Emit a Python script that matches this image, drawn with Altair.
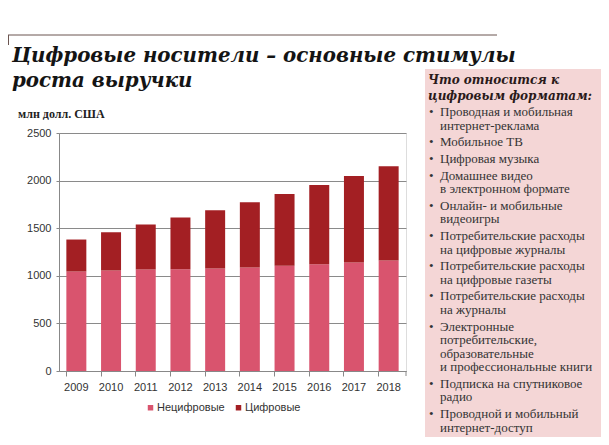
import altair as alt
import pandas as pd

years = ["2009", "2010", "2011", "2012", "2013", "2014", "2015", "2016", "2017", "2018"]
nondigital = [1045, 1056, 1066, 1070, 1077, 1087, 1105, 1122, 1140, 1161]
digital = [336, 402, 472, 542, 612, 686, 755, 833, 909, 989]
series = ["Нецифровые", "Цифровые"]
colors = ["#d9546e", "#a31f23"]
y_ticks = [0, 500, 1000, 1500, 2000, 2500]

title_lines = ["Цифровые носители – основные стимулы", "роста выручки"]
unit_label = "млн долл. США"
panel_heading = ["Что относится к", "цифровым форматам:"]
panel_items = [
    ["Проводная и мобильная", "интернет-реклама"],
    ["Мобильное ТВ"],
    ["Цифровая музыка"],
    ["Домашнее видео", "в электронном формате"],
    ["Онлайн- и мобильные", "видеоигры"],
    ["Потребительские расходы", "на цифровые журналы"],
    ["Потребительские расходы", "на цифровые газеты"],
    ["Потребительские расходы", "на журналы"],
    ["Электронные", "потребительские,", "образовательные", "и профессиональные книги"],
    ["Подписка на спутниковое", "радио"],
    ["Проводной и мобильный", "интернет-доступ"],
]

W, H = 347, 238
OX, OY = 59, 133  # page position of plot origin

rows = []
for i, y in enumerate(years):
    rows.append({"year": y, "series": series[0], "value": nondigital[i], "ord": 0})
    rows.append({"year": y, "series": series[1], "value": digital[i], "ord": 1})
df = pd.DataFrame(rows)

bars = alt.Chart(df).mark_bar().encode(
    x=alt.X("year:O", title=None,
            scale=alt.Scale(paddingInner=0.424, paddingOuter=0.212),
            axis=alt.Axis(bandPosition=0, labelAngle=0, labelFont="Liberation Sans",
                          labelFontSize=11, labelColor="#333333", labelPadding=5,
                          tickSize=5, tickColor="#888888", domainColor="#888888",
                          grid=False)),
    y=alt.Y("value:Q", stack="zero", title=None,
            scale=alt.Scale(domain=[0, 2500], nice=False),
            axis=alt.Axis(values=y_ticks, format="d", labelFont="Liberation Sans", labelFontSize=11,
                          labelColor="#333333", labelPadding=5, tickSize=3,
                          tickColor="#888888", domainColor="#888888",
                          gridColor="#8a8a8a", gridWidth=1)),
    color=alt.Color("series:N", scale=alt.Scale(domain=series, range=colors),
                    legend=alt.Legend(title=None, orient="none", legendX=86, legendY=269,
                                      direction="horizontal", symbolType="square",
                                      symbolSize=30, symbolStrokeWidth=0,
                                      labelFont="Liberation Sans", labelFontSize=11,
                                      labelColor="#333333", columnPadding=8,
                                      labelOffset=1)),
    order=alt.Order("ord:Q"),
)

end_tick = alt.Chart(pd.DataFrame({"a": [0]})).mark_rule(color="#888888").encode(
    x=alt.value(W), y=alt.value(H), y2=alt.value(H + 5))

# top decorative rule
top_rule = alt.Chart(pd.DataFrame({"a": [0]})).mark_rule(color="#6b5550", strokeWidth=1).encode(
    x=alt.value(8 - OX), x2=alt.value(497 - OX), y=alt.value(35 - OY))
top_tick = alt.Chart(pd.DataFrame({"a": [0]})).mark_rule(color="#6b5550", strokeWidth=1).encode(
    x=alt.value(8 - OX + 0.5), y=alt.value(35 - OY), y2=alt.value(45 - OY))

title_df = pd.DataFrame({"t": title_lines, "px": [12 - OX] * 2,
                         "py": [62 - OY + k * 25 for k in range(2)]})
title = alt.Chart(title_df).mark_text(
    align="left", baseline="alphabetic", font="DejaVu Serif", fontStyle="italic",
    fontWeight="bold", fontSize=19.8, color="#141414").encode(
    x=alt.X("px:Q", scale=None, axis=None), y=alt.Y("py:Q", scale=None, axis=None), text="t:N")

unit = alt.Chart(pd.DataFrame({"t": [unit_label]})).mark_text(
    align="left", baseline="alphabetic", font="Liberation Serif", fontWeight="bold",
    fontSize=12, color="#222222").encode(
    x=alt.value(18 - OX), y=alt.value(118 - OY), text="t:N")

panel = alt.Chart(pd.DataFrame({"a": [0]})).mark_rect(color="#f4d6d6").encode(
    x=alt.value(425 - OX), x2=alt.value(601 - OX), y=alt.value(69 - OY), y2=alt.value(437 - OY))

head_df = pd.DataFrame({"t": panel_heading, "px": [428 - OX] * 2,
                        "py": [84 - OY + k * 16 for k in range(2)]})
heading = alt.Chart(head_df).mark_text(
    align="left", baseline="alphabetic", font="DejaVu Serif", fontStyle="italic",
    fontWeight="bold", fontSize=12, color="#2a1a1a").encode(
    x=alt.X("px:Q", scale=None, axis=None), y=alt.Y("py:Q", scale=None, axis=None), text="t:N")

line_rows, bullet_rows = [], []
yc = 112.0
for item in panel_items:
    bullet_rows.append({"t": "•", "px": 429 - OX, "py": yc + 4 - OY})
    for j, ln in enumerate(item):
        line_rows.append({"t": ln, "px": 440 - OX, "py": yc + 4 - OY})
        if j < len(item) - 1:
            yc += 13.5
    yc += 16.7
lines = alt.Chart(pd.DataFrame(line_rows)).mark_text(
    align="left", baseline="alphabetic", font="Liberation Serif", fontSize=13,
    color="#333333").encode(
    x=alt.X("px:Q", scale=None, axis=None), y=alt.Y("py:Q", scale=None, axis=None), text="t:N")
bullets = alt.Chart(pd.DataFrame(bullet_rows)).mark_text(
    align="left", baseline="alphabetic", font="Liberation Serif", fontSize=13,
    color="#333333").encode(
    x=alt.X("px:Q", scale=None, axis=None), y=alt.Y("py:Q", scale=None, axis=None), text="t:N")

chart = alt.layer(bars, end_tick, top_rule, top_tick, title, unit, panel, heading, lines, bullets).resolve_scale(
    x="independent", y="independent"
).properties(
    width=W, height=H,
    autosize=alt.AutoSizeParams(type="none"),
    padding={"left": OX - 8, "top": OY - 8, "right": 593 - (OX - 8) - W, "bottom": 429 - (OY - 8) - H},
).configure_view(stroke=None).configure(background="white")

chart.save("out.html", embed_options={"renderer": "svg", "actions": False})
